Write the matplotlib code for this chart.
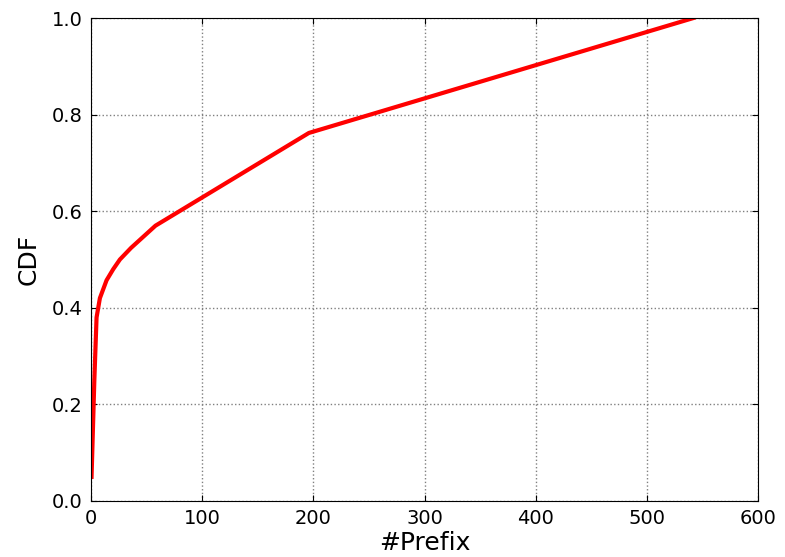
import matplotlib
matplotlib.use("Agg")
import matplotlib.pyplot as plt

# CDF of number of prefixes
prefixes = [0.5, 3, 5, 8, 14, 20, 26, 36, 58, 196, 542]
cdf = [0.05, 0.25, 0.38, 0.42, 0.457, 0.48, 0.50, 0.524, 0.57, 0.762, 1.0]

fig = plt.figure(figsize=(7.85, 5.57), dpi=100)
ax = fig.add_axes([91 / 785, 1 - 501 / 557, 667 / 785, 483 / 557])

ax.plot(prefixes, cdf, color='red', linewidth=3)

ax.set_xlim(0, 600)
ax.set_ylim(0, 1.0)
ax.set_xticks([0, 100, 200, 300, 400, 500, 600])
ax.set_yticks([0.0, 0.2, 0.4, 0.6, 0.8, 1.0])
ax.set_yticklabels(['0.0', '0.2', '0.4', '0.6', '0.8', '1.0'])
ax.tick_params(direction='in', length=4, labelsize=14, top=True, right=True, pad=6)
ax.grid(True, color='gray', linestyle=':', linewidth=1)
ax.set_xlabel('#Prefix', fontsize=18, labelpad=2)
ax.set_ylabel('CDF', fontsize=18, labelpad=8)

fig.savefig('out.png', dpi=100)
